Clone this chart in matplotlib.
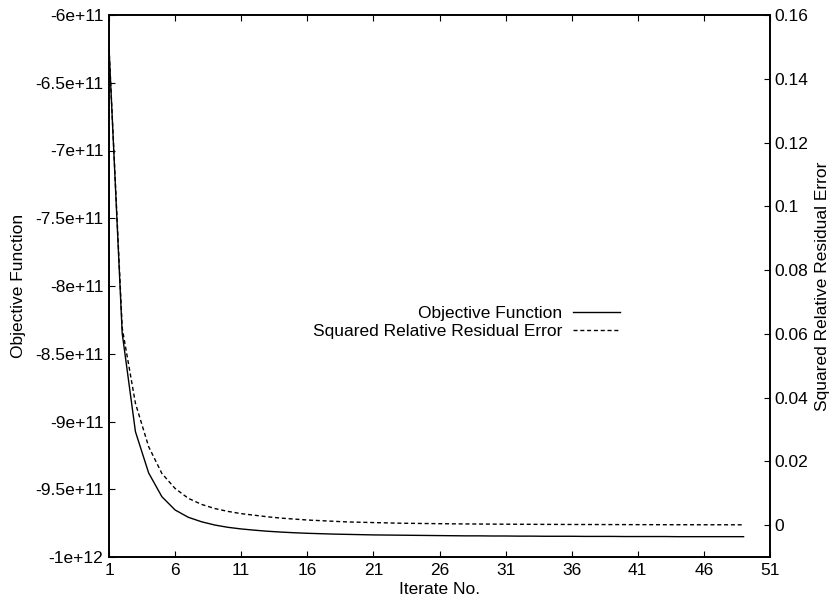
import matplotlib
matplotlib.use("Agg")
import matplotlib.pyplot as plt

plt.rcParams['font.family'] = ['Liberation Sans', 'DejaVu Sans']
plt.rcParams['font.size'] = 12.5

iterations = list(range(1, 50))
objective = [-6.24e11, -8.35e11, -9.075e11, -9.38e11, -9.555e11, -9.653e11, -9.707e11,
             -9.74e11, -9.764e11, -9.781e11, -9.793e11, -9.802e11, -9.81e11, -9.816e11,
             -9.821e11, -9.825e11, -9.828e11, -9.831e11, -9.833e11, -9.835e11, -9.837e11,
             -9.838e11, -9.839e11, -9.840e11, -9.841e11, -9.842e11, -9.843e11, -9.844e11,
             -9.844e11, -9.845e11, -9.845e11, -9.846e11, -9.846e11, -9.847e11, -9.847e11,
             -9.847e11, -9.848e11, -9.848e11, -9.848e11, -9.849e11, -9.849e11, -9.849e11,
             -9.849e11, -9.85e11, -9.85e11, -9.85e11, -9.85e11, -9.85e11, -9.85e11]
residual = [0.1497, 0.0618, 0.0382, 0.0246, 0.0162, 0.0115, 0.0084, 0.0065, 0.0052,
            0.0043, 0.0036, 0.0031, 0.0026, 0.0022, 0.0019, 0.0016, 0.0014, 0.0012,
            0.0010, 0.0009, 0.0008, 0.0007, 0.0006, 0.00055, 0.0005, 0.00045, 0.0004,
            0.00037, 0.00034, 0.00031, 0.00029, 0.00027, 0.00025, 0.00023, 0.00022,
            0.0002, 0.00019, 0.00018, 0.00017, 0.00016, 0.00015, 0.00014, 0.00013,
            0.00012, 0.00012, 0.00011, 0.00011, 0.0001, 0.0001]
xticks = [1, 6, 11, 16, 21, 26, 31, 36, 41, 46, 51]
yticks_left = [-1e12, -9.5e11, -9e11, -8.5e11, -8e11, -7.5e11, -7e11, -6.5e11, -6e11]
yticks_left_labels = ['-1e+12', '-9.5e+11', '-9e+11', '-8.5e+11', '-8e+11', '-7.5e+11',
                      '-7e+11', '-6.5e+11', '-6e+11']
yticks_right = [0, 0.02, 0.04, 0.06, 0.08, 0.1, 0.12, 0.14, 0.16]
yticks_right_labels = ['0', '0.02', '0.04', '0.06', '0.08', '0.1', '0.12', '0.14', '0.16']

fig = plt.figure(figsize=(8.34, 6.01), dpi=100)
ax = fig.add_axes([109/834, 44/601, 661/834, 542/601])
ax2 = ax.twinx()

l1, = ax.plot(iterations, objective, color='black', lw=1.0, label='Objective Function')
l2, = ax2.plot(iterations, residual, color='black', lw=1.0, dashes=(2.9, 2.0),
               label='Squared Relative Residual Error')

ax.set_xlim(1, 51)
ax.set_ylim(-1e12, -6e11)
ax2.set_ylim(-0.01, 0.16)
ax.set_xticks(xticks)
ax.set_xticklabels([str(t) for t in xticks])
ax.set_yticks(yticks_left)
ax.set_yticklabels(yticks_left_labels)
ax2.set_yticks(yticks_right)
ax2.set_yticklabels(yticks_right_labels)

ax.tick_params(axis='x', direction='in', length=4.5, width=0.8, top=True, pad=4)
ax.tick_params(axis='y', direction='in', length=4.5, width=0.8, right=False, pad=4)
ax2.tick_params(axis='y', direction='in', length=4.5, width=0.8, pad=3)

for a in (ax, ax2):
    for s in a.spines.values():
        s.set_linewidth(1.2)

ax.set_xlabel('Iterate No.')
ax.set_ylabel('Objective Function')
ax2.set_ylabel('Squared Relative Residual Error')
ax.xaxis.set_label_coords(0.5, -0.047)
ax.yaxis.set_label_coords(-0.1256, 0.5)
ax2.yaxis.set_label_coords(1.068, 0.5)

leg = fig.legend(handles=[l1, l2], loc='upper right',
                 bbox_to_anchor=(620/834, 1 - 306/601), frameon=False,
                 markerfirst=False, handlelength=2.7, handletextpad=0.63,
                 borderpad=0, borderaxespad=0, labelspacing=0.16)

fig.savefig('out.png', dpi=100)
